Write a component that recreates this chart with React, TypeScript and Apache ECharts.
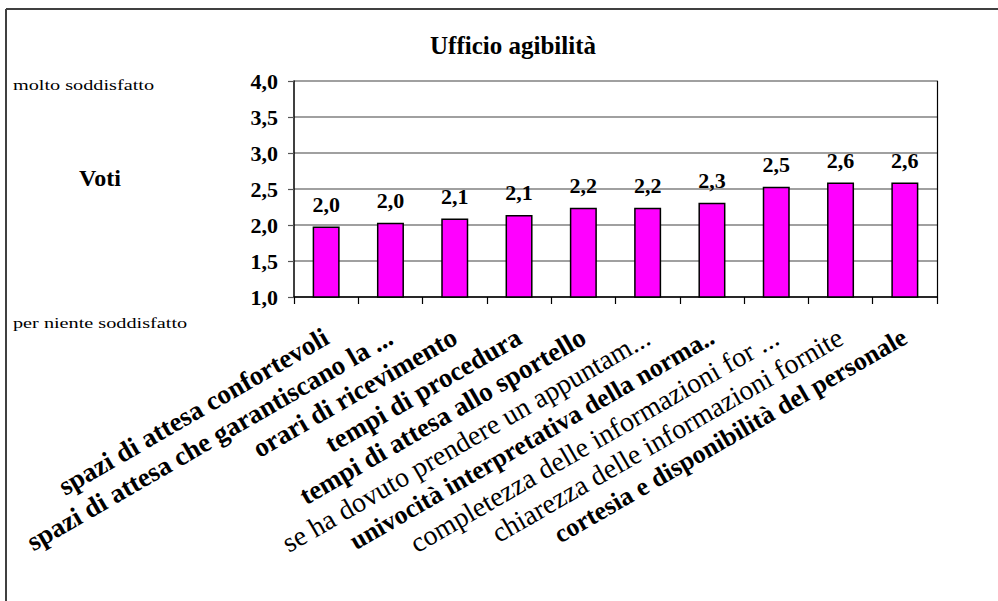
import React, { useEffect, useRef } from "react";
import * as echarts from "echarts";

const categories: string[] = [
  "spazi di attesa confortevoli",
  "spazi di attesa che garantiscano la ...",
  "orari di ricevimento",
  "tempi di procedura",
  "tempi di attesa allo sportello",
  "se ha dovuto prendere un appuntam...",
  "univocità interpretativa della norma..",
  "completezza delle informazioni for ...",
  "chiarezza delle informazioni fornite",
  "cortesia e disponibilità del personale",
];
// label style per category: b = bold, r = regular, k = heavy (garbled in original)
const labelStyles: string[] = ["b", "b", "b", "b", "b", "r", "k", "r", "r", "k"];
const values: number[] = [1.98, 2.03, 2.09, 2.14, 2.24, 2.24, 2.31, 2.53, 2.59, 2.59];
const yTicks = { min: 1, max: 4, interval: 0.5 };
const titleText = "Ufficio agibilità";
const yTopText = "molto soddisfatto";
const yBottomText = "per niente soddisfatto";
const yName = "Voti";

const FONT = "Liberation Serif";
const comma = (v: number) => v.toFixed(1).replace(".", ",");

export default function App() {
  const ref = useRef<HTMLDivElement>(null);
  useEffect(() => {
    if (!ref.current) return;
    const chart = echarts.init(ref.current, null, { renderer: "svg" });
    chart.setOption({
      animation: false,
      backgroundColor: "#ffffff",
      textStyle: { fontFamily: FONT },
      grid: { left: 294, right: 61, top: 81, bottom: 304, containLabel: false },
      xAxis: {
        type: "category",
        data: categories,
        axisLine: { show: true, lineStyle: { color: "#000", width: 1.5 } },
        axisTick: { show: true, length: 7, inside: false, lineStyle: { color: "#000", width: 1.2 } },
        splitLine: { show: false },
        axisLabel: {
          interval: 0,
          rotate: 30,
          margin: 38,
          color: "#000",
          fontFamily: FONT,
          formatter: (v: string) => {
            const i = categories.indexOf(v);
            return `{${labelStyles[i] || "b"}|${v}}`;
          },
          rich: {
            b: { fontFamily: FONT, fontSize: 27, fontWeight: "bold", color: "#000" },
            r: { fontFamily: FONT, fontSize: 28, fontWeight: "normal", color: "#000" },
            k: { fontFamily: FONT, fontSize: 26, fontWeight: "bold", color: "#000" },
          },
        },
      },
      yAxis: [
        {
          type: "value",
          min: yTicks.min,
          max: yTicks.max,
          interval: yTicks.interval,
          axisLine: { show: true, lineStyle: { color: "#000", width: 1.5 } },
          axisTick: { show: true, length: 6, inside: false, lineStyle: { color: "#555", width: 1.2 } },
          splitLine: { show: true, lineStyle: { color: "#808080", width: 1.5 } },
          axisLabel: {
            margin: 16,
            color: "#000",
            fontFamily: FONT,
            fontSize: 22,
            fontWeight: "bold",
            formatter: (v: number) => comma(v),
          },
        },
        {
          type: "value",
          position: "right",
          min: yTicks.min,
          max: yTicks.max,
          interval: yTicks.interval,
          axisLine: { show: true, lineStyle: { color: "#000", width: 1.2 } },
          axisTick: { show: false },
          axisLabel: { show: false },
          splitLine: { show: false },
        },
      ],
      series: [
        {
          type: "bar",
          data: values,
          barWidth: 27,
          itemStyle: { color: "#FF00FF", borderColor: "#000", borderWidth: 1.5 },
          label: {
            show: true,
            position: "top",
            distance: 11,
            color: "#000",
            fontFamily: FONT,
            fontSize: 22,
            fontWeight: "bold",
            formatter: (p: any) => comma(p.value),
          },
        },
      ],
      graphic: [
        { type: "line", shape: { x1: 6, y1: 9, x2: 998, y2: 9 }, style: { stroke: "#404040", lineWidth: 2 } },
        { type: "line", shape: { x1: 6, y1: 9, x2: 6, y2: 601 }, style: { stroke: "#404040", lineWidth: 2 } },
        {
          type: "text",
          x: 513,
          y: 45,
          style: {
            text: titleText,
            font: `bold 25px ${FONT}`,
            fill: "#000",
            textAlign: "center",
            textVerticalAlign: "middle",
          },
        },
        {
          type: "text",
          x: 13,
          y: 85,
          scaleX: 1.35,
          style: {
            text: yTopText,
            font: `15px ${FONT}`,
            fill: "#000",
            textAlign: "left",
            textVerticalAlign: "middle",
          },
        },
        {
          type: "text",
          x: 13,
          y: 323,
          scaleX: 1.35,
          style: {
            text: yBottomText,
            font: `15px ${FONT}`,
            fill: "#000",
            textAlign: "left",
            textVerticalAlign: "middle",
          },
        },
        {
          type: "text",
          x: 100,
          y: 178,
          style: {
            text: yName,
            font: `bold 24px ${FONT}`,
            fill: "#000",
            textAlign: "center",
            textVerticalAlign: "middle",
          },
        },
      ],
    });
    return () => chart.dispose();
  }, []);
  return (
    <div
      ref={ref}
      style={{ position: "fixed", left: 0, top: 0, width: 998, height: 601, background: "#fff" }}
    />
  );
}
